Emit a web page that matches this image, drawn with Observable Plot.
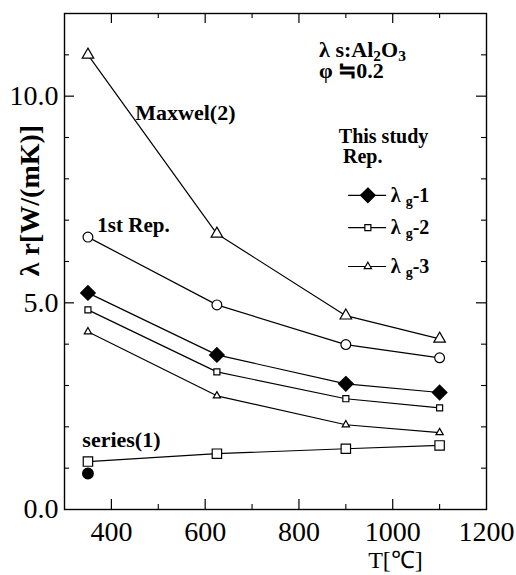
<!DOCTYPE html>
<html><head><meta charset="utf-8">
<script src="https://cdn.jsdelivr.net/npm/d3@7"></script>
<script src="https://cdn.jsdelivr.net/npm/@observablehq/plot@0.6"></script>
<style>body{margin:0;background:#fff;} svg text{font-family:"Liberation Serif","Times New Roman",serif;}</style>
</head><body><div id="chart"></div>
<script>
// ---- data ----
const temperatures = [350, 625, 900, 1100];
const maxwell2   = [11.0, 6.67, 4.69, 4.13];
const firstRep   = [6.59, 4.95, 3.99, 3.67];
const lambdaG1   = [5.24, 3.74, 3.04, 2.83];
const lambdaG2   = [4.83, 3.33, 2.68, 2.46];
const lambdaG3   = [4.30, 2.75, 2.05, 1.86];
const series1    = [1.16, 1.35, 1.47, 1.55];
const measuredT  = [350];
const measuredV  = [0.87];
const xTicks      = [400, 600, 800, 1000, 1200];
const xMinorTicks = [500, 700, 900, 1100];
const yTicks      = [0, 5, 10];
const yMinorTicks = [1, 2, 3, 4, 6, 7, 8, 9, 11];
const legendNames = ["λ _g-1", "λ _g-2", "λ _g-3"];

const seriesNames = ["maxwell", "first", "g1", "g2", "g3", "series"];
const seriesValues = [maxwell2, firstRep, lambdaG1, lambdaG2, lambdaG3, series1];
const rows = seriesNames.flatMap((s, i) => temperatures.map((t, j) => ({s, T: t, v: seriesValues[i][j]})));
const measured = measuredT.map((t, i) => ({T: t, v: measuredV[i]}));

const sym = {
  maxwell: {symbol: "triangle", r: 4.3, fill: "white"},
  first:   {symbol: "circle",   r: 4.9, fill: "white"},
  g1:      {symbol: "diamond2", r: 6.6, fill: "black"},
  g2:      {symbol: "square",   r: 3.4, fill: "white"},
  g3:      {symbol: "triangle", r: 2.7, fill: "white"},
  series:  {symbol: "square",   r: 5.3, fill: "white"}
};

const W = 516, H = 575, mL = 64, mR = 30, mT = 13, mB = 66;
const FW = W - mL - mR, FH = H - mT - mB;
const FF = "'Liberation Serif', 'Times New Roman', serif";

const marks = [];
for (const s of seriesNames) {
  const d = rows.filter(r => r.s === s);
  marks.push(Plot.line(d, {x: "T", y: "v", stroke: "black", strokeWidth: 1.2}));
}
for (const s of seriesNames) {
  const d = rows.filter(r => r.s === s);
  marks.push(Plot.dot(d, {x: "T", y: "v", symbol: sym[s].symbol, r: sym[s].r, fill: sym[s].fill, stroke: "black", strokeWidth: 1.2}));
}
marks.push(Plot.dot(measured, {x: "T", y: "v", symbol: "circle", r: 5.2, fill: "black", stroke: "black"}));

// legend
const legendY = [7.6, 6.82, 5.88];
const legendSym = ["g1", "g2", "g3"];
legendSym.forEach((s, i) => {
  marks.push(Plot.ruleY([legendY[i]], {x1: 906, x2: 987, stroke: "black", strokeWidth: 1.1}));
  marks.push(Plot.dot([{x: 947, y: legendY[i]}], {x: "x", y: "y", symbol: sym[s].symbol, r: sym[s].r, fill: sym[s].fill, stroke: "black", strokeWidth: 1.2}));
  marks.push(Plot.text([legendNames[i]], {x: 996, y: legendY[i], textAnchor: "start", lineAnchor: "middle", fontSize: 20, fontWeight: "bold", fontFamily: FF, fill: "black"}));
});

// annotations
const ann = (t, x, y, fs) => Plot.text([t], {x, y, textAnchor: "start", lineAnchor: "middle", fontSize: fs, fontWeight: "bold", fontFamily: FF, fill: "black"});
marks.push(ann("Maxwel(2)", 451, 9.6, 22));
marks.push(ann("1st Rep.", 370, 6.87, 21));
marks.push(ann("series(1)", 338, 1.69, 22));
marks.push(ann("λ s:Al_2O_3", 843, 11.13, 22));
marks.push(ann("φ ≒0.2", 843, 10.62, 22));
marks.push(ann("This study", 885, 9.02, 20));
marks.push(ann("Rep.", 894, 8.54, 20));

// frame and inward ticks
marks.push(Plot.frame({stroke: "black", strokeWidth: 1.4}));
marks.push(Plot.tickY(yTicks.filter(d => d > 0), {y: d => d, insetRight: FW - 10, stroke: "black", strokeWidth: 1.2}));
marks.push(Plot.tickY(yTicks.filter(d => d > 0), {y: d => d, insetLeft: FW - 10, stroke: "black", strokeWidth: 1.2}));
marks.push(Plot.tickY(yMinorTicks, {y: d => d, insetRight: FW - 5, stroke: "black", strokeWidth: 1.1}));
marks.push(Plot.tickY(yMinorTicks, {y: d => d, insetLeft: FW - 5, stroke: "black", strokeWidth: 1.1}));
marks.push(Plot.tickX(xTicks.filter(d => d < 1200), {x: d => d, insetTop: FH - 10, stroke: "black", strokeWidth: 1.2}));
marks.push(Plot.tickX(xTicks.filter(d => d < 1200), {x: d => d, insetBottom: FH - 10, stroke: "black", strokeWidth: 1.2}));
marks.push(Plot.tickX(xMinorTicks, {x: d => d, insetTop: FH - 5, stroke: "black", strokeWidth: 1.1}));
marks.push(Plot.tickX(xMinorTicks, {x: d => d, insetBottom: FH - 5, stroke: "black", strokeWidth: 1.1}));

// axis labels
marks.push(Plot.axisY(yTicks, {tickSize: 0, tickPadding: 6, tickFormat: d => d.toFixed(1), fontSize: 28, fontFamily: FF, label: null, fill: "black"}));
marks.push(Plot.axisX(xTicks, {tickSize: 0, tickPadding: 12, tickFormat: d => String(d), fontSize: 28, fontFamily: FF, label: null, fill: "black"}));

// axis titles
marks.push(Plot.text(["λ r[W/(mK)]"], {frameAnchor: "left", dx: -34, dy: -61, rotate: -90, textAnchor: "middle", lineAnchor: "middle", fontSize: 28, fontWeight: "bold", fontFamily: FF, fill: "black"}));
marks.push(Plot.text(["T[℃]"], {frameAnchor: "bottom-right", dx: -91, dy: 51, textAnchor: "middle", lineAnchor: "middle", fontSize: 24, fontFamily: FF, fill: "black"}));

const chart = Plot.plot({
  width: W, height: H,
  marginLeft: mL, marginRight: mR, marginTop: mT, marginBottom: mB,
  x: {domain: [300, 1200]},
  y: {domain: [0, 12]},
  style: {fontFamily: FF, background: "white", color: "black"},
  marks
});

// subscripts: "_x" marks a subscript character
d3.select(chart).selectAll("text").each(function() {
  const t = this.textContent;
  if (!t.includes("_") || this.querySelector("tspan")) return;
  const el = d3.select(this);
  el.text(null);
  let shifted = false;
  for (const p of t.split(/(_.)/)) {
    if (!p) continue;
    if (p[0] === "_") {
      el.append("tspan").attr("font-size", "0.7em").attr("dy", "0.3em").text(p[1]);
      shifted = true;
    } else {
      const ts = el.append("tspan").text(p);
      if (shifted) { ts.attr("dy", "-0.21em"); shifted = false; }
    }
  }
});

document.getElementById("chart").appendChild(chart);
</script>
</body></html>
